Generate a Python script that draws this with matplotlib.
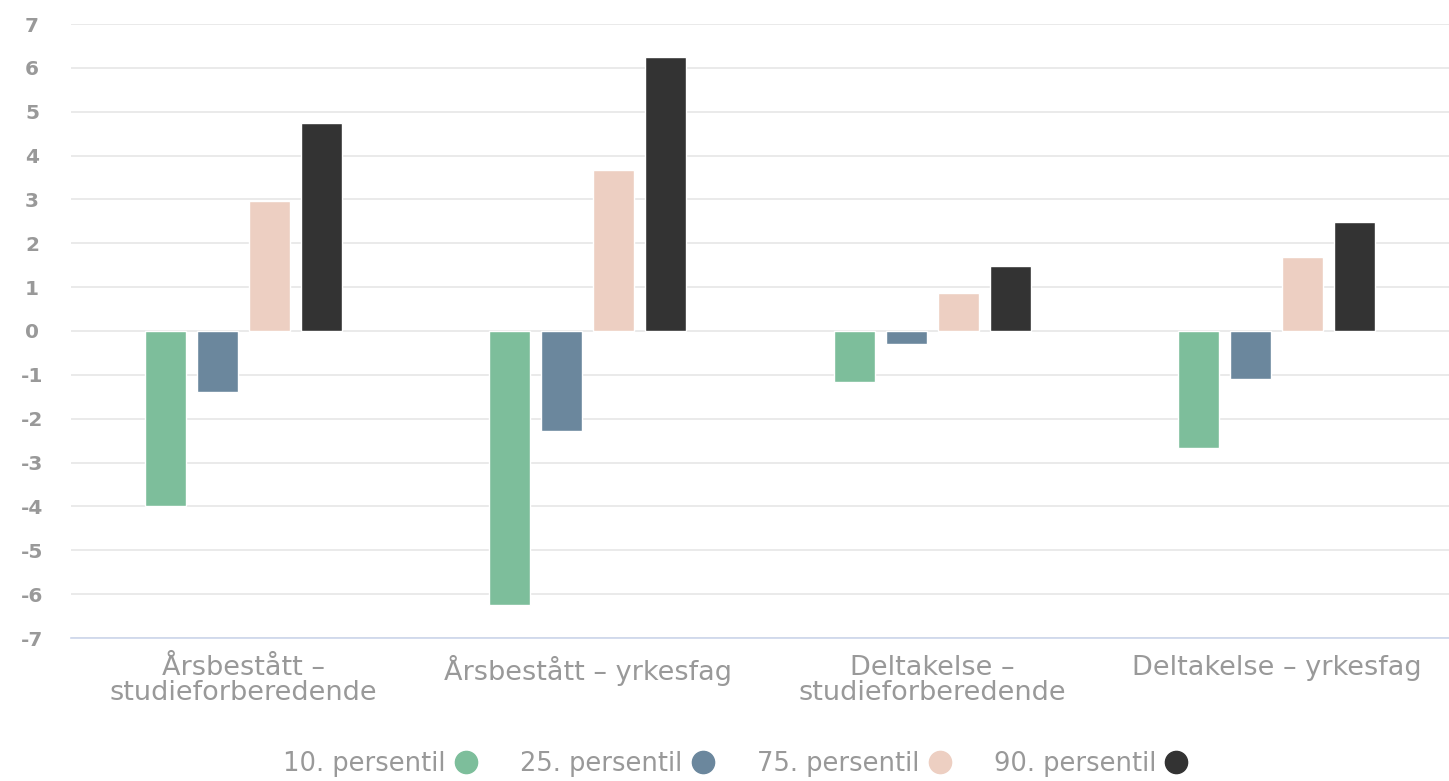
import matplotlib
matplotlib.use("Agg")
import matplotlib.pyplot as plt
from matplotlib.lines import Line2D
import numpy as np

categories = ["Årsbestått –\nstudieforberedende", "Årsbestått – yrkesfag",
              "Deltakelse –\nstudieforberedende", "Deltakelse – yrkesfag"]
series_names = ["10. persentil", "25. persentil", "75. persentil", "90. persentil"]
p10 = [-4.0, -6.25, -1.17, -2.66]
p25 = [-1.4, -2.27, -0.3, -1.09]
p75 = [2.96, 3.66, 0.86, 1.69]
p90 = [4.75, 6.25, 1.48, 2.48]
colors = ["#7dbe9b", "#6b879d", "#edcfc2", "#333333"]
yticks = list(range(-7, 8))

plt.rcParams['font.family'] = ['DejaVu Sans']
fig = plt.figure(figsize=(14.49, 7.81), dpi=100)
ax = fig.add_axes([71/1449, 1-638/781, 1-71/1449, (638-24)/781])

x = np.arange(len(categories))
step = 0.151
width = 0.12
for i, (vals, c) in enumerate(zip([p10, p25, p75, p90], colors)):
    ax.bar(x + (i-1.5)*step, vals, width, color=c, edgecolor="white", linewidth=1, zorder=3)

ax.set_xlim(-0.5, 3.5)
ax.set_ylim(-7, 7)
ax.set_yticks(yticks)
ax.set_yticklabels([str(v) if v >= 0 else "-" + str(-v) for v in yticks])
ax.set_xticks(x)
ax.set_xticklabels(categories, fontsize=19.5, color="#999999", linespacing=0.95)
ax.grid(axis="y", color="#e6e6e6", linewidth=1.2, zorder=0)
ax.set_axisbelow(True)
for s in ["top", "right", "left"]:
    ax.spines[s].set_visible(False)
ax.spines["bottom"].set_color("#ccd6eb")
ax.spines["bottom"].set_linewidth(1.2)
ax.tick_params(axis="y", length=0, labelsize=14.5, labelcolor="#999999", pad=28)
ax.tick_params(axis="x", length=0, pad=12)
for lab in ax.get_yticklabels():
    lab.set_horizontalalignment("center")
    lab.set_fontweight("bold")

handles = [Line2D([], [], marker="o", linestyle="none", markersize=16, color=c) for c in colors]
fig.legend(handles, series_names, loc="center", bbox_to_anchor=(0.508, 1-764/781), ncol=4,
           frameon=False, markerfirst=False, fontsize=18.5, labelcolor="#999999",
           handletextpad=0.3, columnspacing=1.6, handlelength=1.0)

fig.savefig("out.png", dpi=100)
